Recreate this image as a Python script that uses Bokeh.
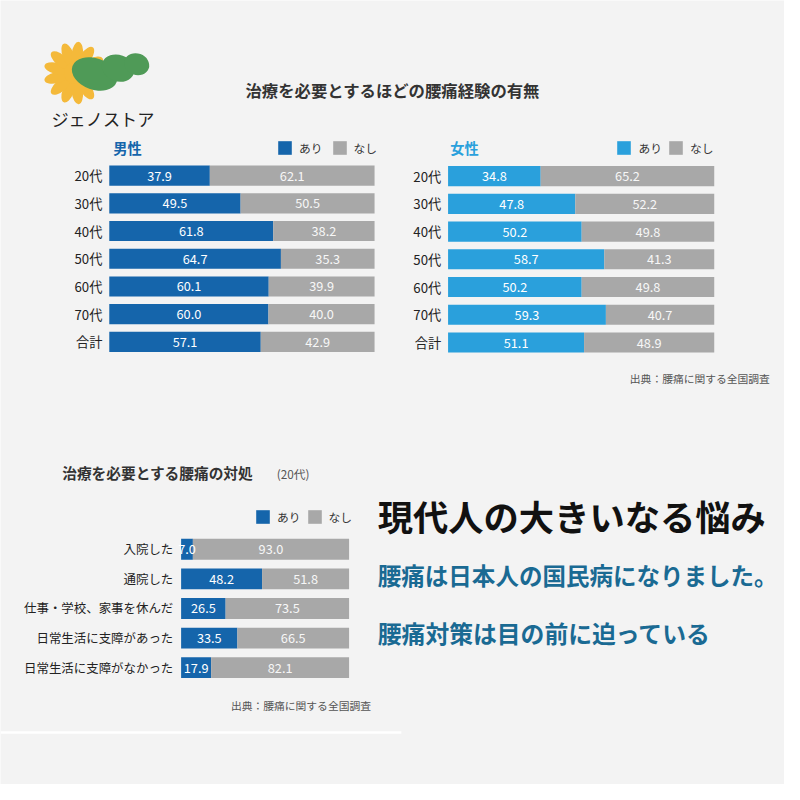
import math
from bokeh.plotting import figure
from bokeh.models import Range1d, ColumnDataSource, Label, Legend, LegendItem
from bokeh.core.properties import value
from bokeh.embed import file_html
from bokeh.resources import INLINE

# ---------------- data ----------------
ages = ["20代", "30代", "40代", "50代", "60代", "70代", "合計"]
male_yes = [37.9, 49.5, 61.8, 64.7, 60.1, 60.0, 57.1]
male_no = [62.1, 50.5, 38.2, 35.3, 39.9, 40.0, 42.9]
female_yes = [34.8, 47.8, 50.2, 58.7, 50.2, 59.3, 51.1]
female_no = [65.2, 52.2, 49.8, 41.3, 49.8, 40.7, 48.9]
actions = ["入院した", "通院した", "仕事・学校、家事を休んだ", "日常生活に支障があった", "日常生活に支障がなかった"]
action_yes = [7.0, 48.2, 26.5, 33.5, 17.9]
action_no = [93.0, 51.8, 73.5, 66.5, 82.1]
legend_labels = ["あり", "なし"]

# ---------------- style ----------------
FONT = "Noto Sans CJK JP"
BG = "#f3f3f3"
BLUE = "#1565ab"
LIGHT_BLUE = "#2aa0dc"
GRAY = "#a8a8a8"
W = H = 784
REF = 800.0          # layout is designed on an 800 px canvas
S = W / REF          # screen scale
FX0, FX1, FY0, FY1 = 0.0, REF, 0.0, REF


def px(v):
    return f"{v * S:.2f}px"


p = figure(width=W, height=H, x_range=Range1d(FX0, FX1), y_range=Range1d(FY1, FY0),
           output_backend="svg", toolbar_location=None, min_border=0,
           x_axis_type=None, y_axis_type=None,
           background_fill_color=BG, border_fill_color=BG, outline_line_color=None)
p.grid.visible = False


def add_chart(key, cats, yes, no, color, x0, x1, y0, dy, bar_px, cat_size, cat_gap,
              leg_x, leg_y, leg_spacing):
    k = (x1 - x0) / 100.0
    p.extra_x_ranges[key] = Range1d(start=(FX0 - x0) / k, end=(FX1 - x0) / k)
    p.extra_y_ranges[key] = Range1d(start=(FY1 - y0) / dy, end=(FY0 - y0) / dy)
    n = len(cats)
    src = ColumnDataSource(dict(
        idx=list(range(n)), cat=cats, yes=yes, no=no, zero=[0] * n,
        yes_mid=[v / 2 for v in yes],
        no_mid=[a + b / 2 for a, b in zip(yes, no)],
        yes_txt=[f"{v:.1f}" for v in yes],
        no_txt=[f"{v:.1f}" for v in no]))
    rs = p.hbar_stack(["yes", "no"], y="idx", height=bar_px / dy, color=[color, GRAY],
                      line_color=None, source=src, x_range_name=key, y_range_name=key)
    common = dict(source=src, x_range_name=key, y_range_name=key, text_baseline="middle",
                  text_font=value(FONT))
    p.text(x="yes_mid", y="idx", text="yes_txt", text_align="center",
           text_color="white", text_font_size=px(13), **common)
    p.text(x="no_mid", y="idx", text="no_txt", text_align="center",
           text_color="#f7f7f7", text_font_size=px(13), **common)
    p.text(x="zero", y="idx", text="cat", text_align="right", x_offset=-cat_gap * S,
           text_color="#222222", text_font_size=px(cat_size), **common)
    g = 17
    lg = Legend(items=[LegendItem(label=value(legend_labels[0]), renderers=[rs[0]]),
                       LegendItem(label=value(legend_labels[1]), renderers=[rs[1]])],
                location=(leg_x * S, (REF - (leg_y + g)) * S), orientation="horizontal",
                glyph_width=round(g * S), glyph_height=round(g * S), label_height=round(g * S),
                label_standoff=6, spacing=leg_spacing, padding=0, margin=0,
                background_fill_alpha=0, border_line_color=None, label_text_font=FONT,
                label_text_font_size=px(12), label_text_color="#333333")
    p.add_layout(lg)


add_chart("male", ages, male_yes, male_no, BLUE, 111, 381.7, 178.7, 28.27, 20.5,
          13.5, 7, 281.7, 142.3, 8)
add_chart("female", ages, female_yes, female_no, LIGHT_BLUE, 456.7, 728.3, 179.2, 28.3, 20.5,
          13.5, 7, 628, 142.3, 5)
add_chart("act", actions, action_yes, action_no, BLUE, 184.3, 355.7, 560, 30.2, 21.3,
          12.7, 8, 259.3, 518.3, 5)


def label(x, y, text, size, color, bold=False, align="left"):
    p.add_layout(Label(x=x, y=y, text=text, text_font=FONT, text_font_size=px(size),
                       text_color=color, text_font_style="bold" if bold else "normal",
                       text_baseline="middle", text_align=align))


# titles and notes
label(250, 91, "治療を必要とするほどの腰痛経験の有無", 16.7, "#333333", bold=True)
label(115, 151, "男性", 14.5, BLUE, bold=True)
label(459, 151, "女性", 14.5, LIGHT_BLUE, bold=True)
label(785, 385, "出典：腰痛に関する全国調査", 11, "#555555", align="right")
label(63, 482, "治療を必要とする腰痛の対処", 15, "#333333", bold=True)
label(282, 483, "(20代)", 12, "#555555")
label(378, 719, "出典：腰痛に関する全国調査", 11, "#555555", align="right")
label(385, 525, "現代人の大きいなる悩み", 36, "#111111", bold=True)
label(385, 586, "腰痛は日本人の国民病になりました。", 24, "#1a6a93", bold=True)
label(385, 645, "腰痛対策は目の前に迫っている", 24.3, "#1a6a93", bold=True)

# thin white divider
p.segment(x0=[0], y0=[747], x1=[409], y1=[747], line_color="white", line_width=2.5 * S)

# logo: sunflower + green leaves + name
cx, cy = 76, 74
n_pet = 13
pxs, pys, pas = [], [], []
for i in range(n_pet):
    t = 2 * math.pi * i / n_pet
    pxs.append(cx + 19.5 * math.cos(t))
    pys.append(cy + 19.5 * math.sin(t))
    pas.append(-t)
p.ellipse(x=pxs, y=pys, width=25, height=11.5, angle=pas, fill_color="#f4b93a", line_color=None)
p.ellipse(x=[cx], y=[cy], width=22, height=22, fill_color="#f4b93a", line_color=None)
p.ellipse(x=[96, 120, 139], y=[75, 69, 65], width=[48, 34, 26], height=[32, 27, 22],
          angle=[-0.35, -0.35, -0.35], fill_color="#4f9a57", line_color=None)
label(52, 120, "ジェノストア", 17.5, "#222222")

open("out.html", "w").write(file_html(p, INLINE))
